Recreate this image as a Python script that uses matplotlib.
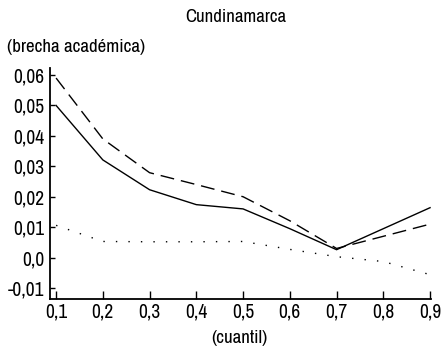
import matplotlib
matplotlib.use("Agg")
import matplotlib.pyplot as plt
from matplotlib import font_manager

# Quantiles and estimated academic gaps
cuantiles = [0.1, 0.2, 0.3, 0.4, 0.5, 0.6, 0.7, 0.8, 0.9]
brecha_total = [0.050, 0.0321, 0.0223, 0.0174, 0.0160, 0.0095, 0.0026, 0.0095, 0.0164]
brecha_disc = [0.059, 0.0390, 0.0279, 0.0240, 0.0200, 0.0121, 0.0030, 0.0070, 0.0110]
brecha_caract = [0.0106, 0.0053, 0.0052, 0.0052, 0.0053, 0.0027, 0.0003, -0.0013, -0.0056]

y_ticks = [-0.01, 0.0, 0.01, 0.02, 0.03, 0.04, 0.05, 0.06]
y_labels = ["-0,01", "0,0", "0,01", "0,02", "0,03", "0,04", "0,05", "0,06"]
x_labels = ["0,1", "0,2", "0,3", "0,4", "0,5", "0,6", "0,7", "0,8", "0,9"]

available = {f.name for f in font_manager.fontManager.ttflist}
family = [f for f in ("Archivo Narrow", "Liberation Sans") if f in available] + ["DejaVu Sans"]
plt.rcParams["font.family"] = family

fig = plt.figure(figsize=(4.43, 3.57), dpi=100)
ax = fig.add_axes([0.1129, 0.1625, 0.860, 0.647])

ax.plot(cuantiles, brecha_total, color="black", lw=1.0, solid_joinstyle="miter")
ax.plot(cuantiles, brecha_disc, color="black", lw=1.0, dashes=(10, 5))
ax.plot(cuantiles, brecha_caract, color="black", lw=1.0, linestyle=(0, (1, 8)))

ax.set_xlim(0.087, 0.902)
ax.set_ylim(-0.0136, 0.0623)
ax.set_xticks(cuantiles)
ax.set_xticklabels(x_labels)
ax.set_yticks(y_ticks)
ax.set_yticklabels(y_labels)

for s in ("top", "right"):
    ax.spines[s].set_visible(False)
for s in ("left", "bottom"):
    ax.spines[s].set_linewidth(1.3)

ax.tick_params(axis="y", direction="in", length=3.5, width=1, labelsize=14, pad=4)
ax.tick_params(axis="x", direction="in", length=5.5, width=1, labelsize=14, pad=2.5)

fig.text(0.533, 0.952, "Cundinamarca", ha="center", va="center", fontsize=13.5)
fig.text(0.016, 0.868, "(brecha académica)", ha="left", va="center", fontsize=13.7)
fig.text(0.54, 0.054, "(cuantil)", ha="center", va="center", fontsize=13.7)

fig.savefig("out.png", dpi=100)
